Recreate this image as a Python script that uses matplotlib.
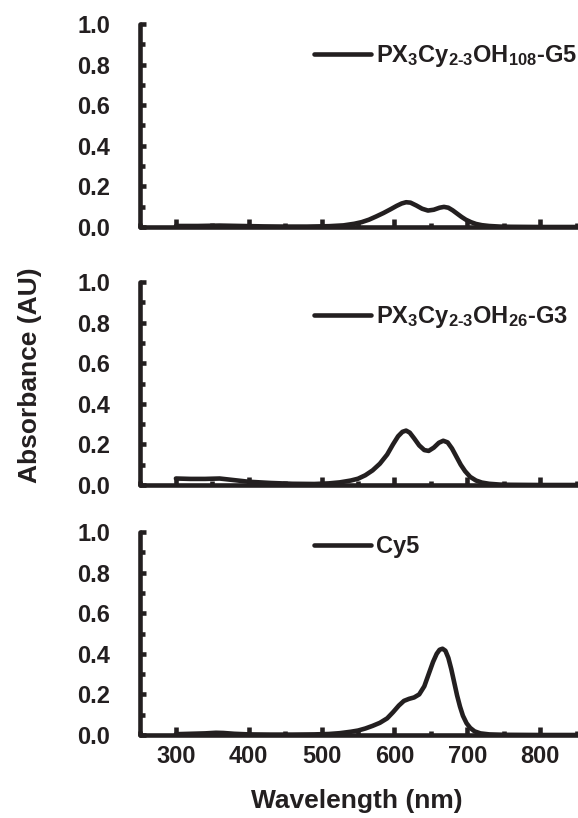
import numpy as np
import matplotlib
matplotlib.use("Agg")
import matplotlib.pyplot as plt
from matplotlib.ticker import MultipleLocator

plt.rcParams['font.family'] = ['Liberation Sans', 'DejaVu Sans']
plt.rcParams['font.weight'] = 'bold'
plt.rcParams['mathtext.fontset'] = 'custom'
plt.rcParams['mathtext.rm'] = 'Liberation Sans:bold'
plt.rcParams['mathtext.it'] = 'Liberation Sans:bold'
plt.rcParams['mathtext.bf'] = 'Liberation Sans:bold'

INK = '#231f20'

# --- data ---
wl_g5 = [300, 330, 360, 390, 420, 450, 480, 510, 530, 545, 555, 565, 575, 585, 595,
         603, 610, 616, 622, 630, 638, 646, 654, 662, 668, 674, 680, 686, 692, 698,
         705, 712, 720, 730, 745, 760, 800, 852]
abs_g5 = [0.005, 0.005, 0.007, 0.005, 0.003, 0.002, 0.002, 0.004, 0.008, 0.016, 0.024,
          0.036, 0.052, 0.069, 0.088, 0.104, 0.116, 0.122, 0.120, 0.106, 0.090, 0.081,
          0.085, 0.095, 0.099, 0.095, 0.082, 0.066, 0.050, 0.036, 0.024, 0.015, 0.009,
          0.005, 0.002, 0.001, 0.0, 0.0]

wl_g3 = [300, 320, 340, 360, 380, 400, 430, 460, 490, 510, 525, 540, 550, 560, 570,
         580, 590, 598, 605, 611, 616, 621, 627, 634, 641, 647, 654, 661, 667, 673,
         679, 685, 691, 697, 704, 712, 720, 730, 745, 760, 800, 852]
abs_g3 = [0.032, 0.030, 0.030, 0.032, 0.024, 0.016, 0.010, 0.006, 0.005, 0.008, 0.013,
          0.022, 0.031, 0.048, 0.072, 0.105, 0.150, 0.200, 0.240, 0.262, 0.268, 0.258,
          0.230, 0.195, 0.172, 0.168, 0.184, 0.208, 0.218, 0.210, 0.180, 0.140, 0.100,
          0.068, 0.040, 0.022, 0.012, 0.006, 0.002, 0.001, 0.0, 0.0]

wl_cy5 = [300, 320, 340, 355, 365, 380, 400, 430, 460, 490, 510, 525, 540, 550, 560,
          570, 580, 590, 598, 606, 613, 620, 627, 634, 641, 647, 653, 658, 662, 666,
          670, 674, 678, 682, 686, 690, 694, 699, 704, 710, 718, 730, 750, 800, 852]
abs_cy5 = [0.004, 0.006, 0.008, 0.011, 0.010, 0.006, 0.003, 0.002, 0.002, 0.003, 0.005,
           0.009, 0.016, 0.022, 0.032, 0.045, 0.060, 0.082, 0.112, 0.145, 0.168, 0.178,
           0.185, 0.200, 0.240, 0.300, 0.360, 0.400, 0.420, 0.425, 0.415, 0.380, 0.325,
           0.260, 0.195, 0.140, 0.095, 0.058, 0.035, 0.018, 0.008, 0.003, 0.001, 0.0, 0.0]

labels = [r'PX$_3$Cy$_{2\text{-}3}$OH$_{108}$-G5',
          r'PX$_3$Cy$_{2\text{-}3}$OH$_{26}$-G3',
          'Cy5']
series = [(wl_g5, abs_g5), (wl_g3, abs_g3), (wl_cy5, abs_cy5)]
y_ticks = [0.0, 0.2, 0.4, 0.6, 0.8, 1.0]
x_ticks = [300, 400, 500, 600, 700, 800]

W, H = 578, 818
fig = plt.figure(figsize=(W / 100, H / 100), dpi=100)

# plotting area of each panel, (top px, bottom px)
panels = [(24, 227), (282, 485), (532, 735)]
legend_y = [56, 317, 547]
left_px = 139.5

for i, ((x, y), lab, (top, bot)) in enumerate(zip(series, labels, panels)):
    ax = fig.add_axes([left_px / W, 1 - bot / H, 1 - left_px / W, (bot - top) / H])
    ax.plot(x, y, color=INK, lw=3.3, label=lab, solid_capstyle='round')
    ax.set_xlim(250, 852)
    ax.set_ylim(0, 1.0)
    for s in ['top', 'right']:
        ax.spines[s].set_visible(False)
    for s in ['left', 'bottom']:
        ax.spines[s].set_linewidth(3.3)
        ax.spines[s].set_color(INK)
        ax.spines[s].set_capstyle('round')
    ax.xaxis.set_minor_locator(MultipleLocator(50))
    ax.yaxis.set_minor_locator(MultipleLocator(0.1))
    ax.set_xticks(x_ticks)
    ax.set_yticks(y_ticks)
    ax.set_yticklabels([f'{v:.1f}' for v in y_ticks])
    ax.tick_params(which='both', direction='in', color=INK, width=3.3)
    ax.tick_params(axis='x', which='major', length=6, pad=7, labelsize=17)
    ax.tick_params(axis='x', which='minor', length=3.2)
    ax.tick_params(axis='y', which='major', length=4.5, pad=21, labelsize=17)
    ax.tick_params(axis='y', which='minor', length=3.5)
    if i < 2:
        ax.tick_params(axis='x', which='both', labelbottom=False)
    for t in ax.get_xticklabels() + ax.get_yticklabels():
        t.set_fontweight('bold')
        t.set_color(INK)
    leg = ax.legend(loc='center left', bbox_to_anchor=(314 / W, 1 - legend_y[i] / H),
                    bbox_transform=fig.transFigure, frameon=False, borderpad=0,
                    borderaxespad=0, handlelength=2.4, handletextpad=0.22,
                    prop={'size': 17, 'weight': 'bold'})
    for t in leg.get_texts():
        t.set_color(INK)

fig.text(30 / W, 1 - 375 / H, 'Absorbance (AU)', rotation=90, ha='center', va='center',
         fontsize=19, fontweight='bold', color=INK)
fig.text(357 / W, 1 - 801 / H, 'Wavelength (nm)', ha='center', va='center',
         fontsize=19, fontweight='bold', color=INK)

fig.savefig('out.png', dpi=100)
